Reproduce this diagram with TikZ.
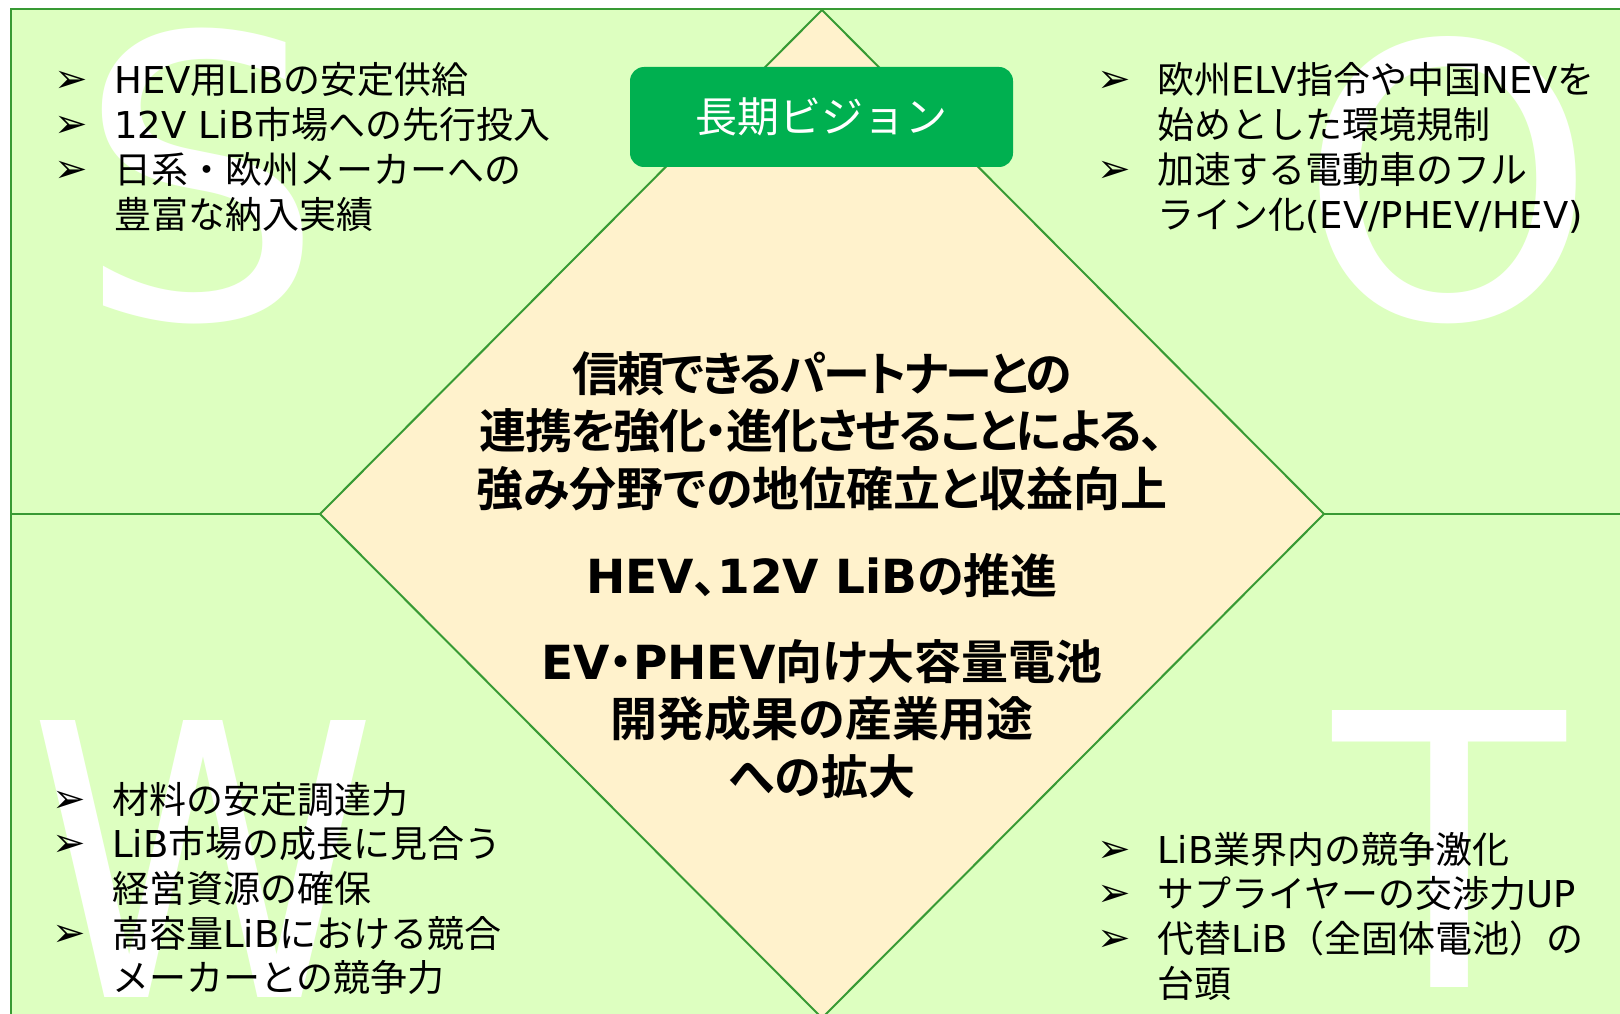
\documentclass[tikz,border=0pt]{standalone}
\usepackage{fontspec}
\setmainfont{Noto Sans CJK JP}[BoldFont={Noto Sans CJK JP Bold}]
\newfontfamily\dvs{DejaVu Sans}
\definecolor{bgg}{RGB}{221,255,192}
\definecolor{dia}{RGB}{255,242,204}
\definecolor{ln}{RGB}{56,154,52}
\definecolor{boxg}{RGB}{0,176,80}
\newcommand\bul{\makebox[60pt][l]{\raisebox{1pt}{\fontsize{40}{40}\selectfont\dvs ➢}}}
\newcommand\nob{\makebox[60pt][l]{}}
\newcommand\lt[1]{{\dvs #1}}
\begin{document}
\begin{tikzpicture}[x=1pt,y=-1pt,
  quad/.style={anchor=base west,inner sep=0pt,font=\fontsize{37}{44.7}\selectfont},
  bigletter/.style={anchor=base west,inner sep=0pt,text=white,font=\dvs\fontsize{380}{380}\selectfont},
  border/.style={draw=ln,line width=2.5pt},
  diamondline/.style={draw=ln,line width=2pt},
  visionbox/.style={fill=boxg,rounded corners=14pt,minimum width=383pt,minimum height=100pt,inner sep=0pt,text=white,font=\fontsize{42}{50}\selectfont},
  centertext/.style={anchor=base,inner sep=0pt,font=\bfseries\fontsize{47}{57.5}\selectfont\addfontfeatures{RawFeature=+palt}}]
\useasboundingbox (0,0) rectangle (1620,1014);
\fill[bgg] (11,9) rectangle (1620,1014);
\coordinate (cbl) at (11,1014);
\coordinate (ctl) at (11,9);
\coordinate (ctr) at (1620,9);
\draw[border] (cbl) -- (ctl) -- (ctr);
% big letters
\node[bigletter] (S) at (76,318) {\scalebox{1.03}{S}};
\node[bigletter] (O) at (1298,318) {O};
\node[bigletter] (W) at (28,997) {\scalebox{0.93}[1]{W}};
\node[bigletter] (T) at (1333,987) {T};
% diamond
\coordinate (dt) at (822,10);
\coordinate (dr) at (1324,514);
\coordinate (db) at (822,1018);
\coordinate (dl) at (320,514);
\coordinate (ml) at (11,514);
\coordinate (mr) at (1620,514);
\filldraw[fill=dia,diamondline] (dt) -- (dr) -- (db) -- (dl) -- cycle;
\draw[border] (ml) -- (dl);
\draw[border] (dr) -- (mr);
% vision box
\node[visionbox] (vision) at (821.5,117) {長期ビジョン};
% quadrant texts
\node[quad] (stext) at (54,94) {\begin{tabular}[t]{@{}l@{}}
\bul \lt{HEV}用\lt{LiB}の安定供給\\
\bul \lt{12V LiB}市場への先行投入\\
\bul 日系・欧州メーカーへの\\
\nob 豊富な納入実績
\end{tabular}};
\node[quad] (otext) at (1097,94) {\begin{tabular}[t]{@{}l@{}}
\bul 欧州\lt{ELV}指令や中国\lt{NEV}を\\
\nob 始めとした環境規制\\
\bul 加速する電動車のフル\\
\nob ライン化\lt{(EV/PHEV/HEV)}
\end{tabular}};
\node[quad] (wtext) at (52,813) {\begin{tabular}[t]{@{}l@{}}
\bul 材料の安定調達力\\
\bul \lt{LiB}市場の成長に見合う\\
\nob 経営資源の確保\\
\bul 高容量\lt{LiB}における競合\\
\nob メーカーとの競争力
\end{tabular}};
\node[quad] (ttext) at (1097,863) {\begin{tabular}[t]{@{}l@{}}
\bul \lt{LiB}業界内の競争激化\\
\bul サプライヤーの交渉力\lt{UP}\\
\bul 代替\lt{LiB}（全固体電池）の\\
\nob 台頭
\end{tabular}};
% center text
\node[centertext] (vtext) at (822,391) {\begin{tabular}[t]{@{}c@{}}
{\addfontfeatures{LetterSpace=-5}信頼できるパートナーとの}\\
{\addfontfeatures{LetterSpace=-3.5}連携を強化・進化させることによる、}\\
強み分野での地位確立と収益向上\\[30pt]
\lt{HEV}、\lt{12V LiB}の推進\\[28pt]
\lt{EV}・\lt{PHEV}向け大容量電池\\
開発成果の産業用途\\
への拡大
\end{tabular}};
\end{tikzpicture}
\end{document}
